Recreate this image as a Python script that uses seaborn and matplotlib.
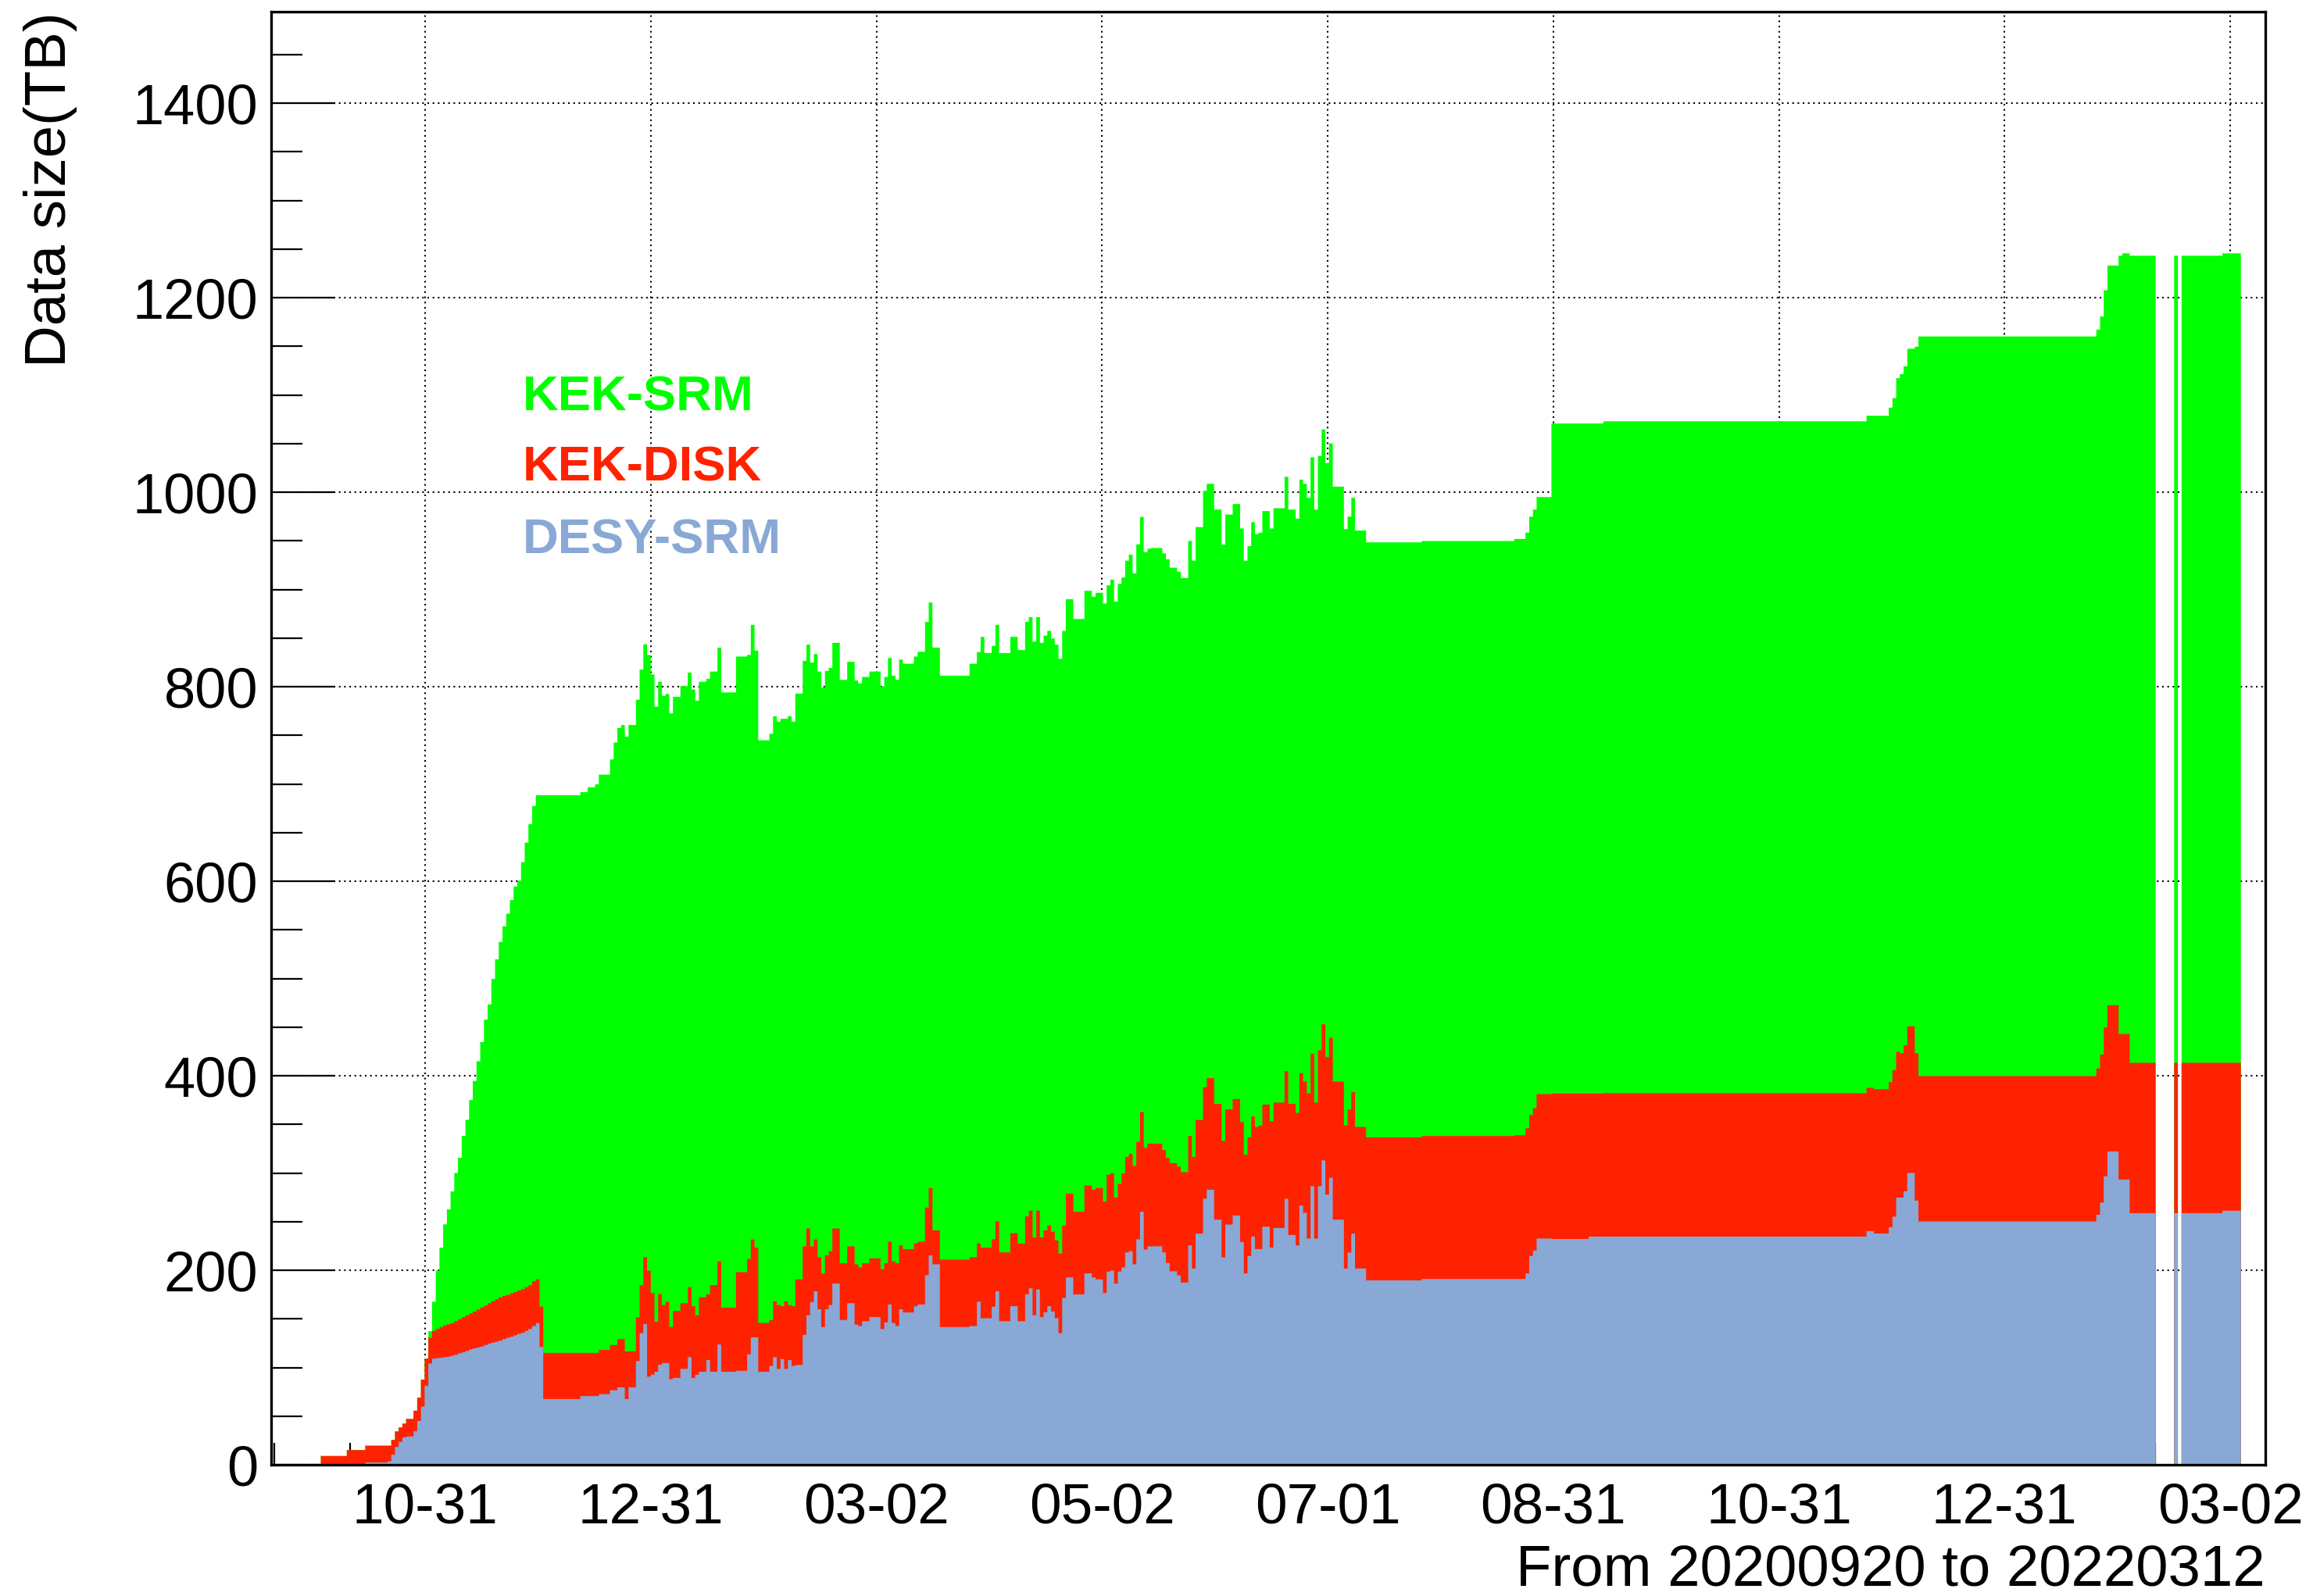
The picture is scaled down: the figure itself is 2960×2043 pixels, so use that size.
import numpy as np
import pandas as pd
import matplotlib
matplotlib.use("Agg")
import matplotlib.pyplot as plt
from matplotlib.ticker import FixedLocator, MultipleLocator
import seaborn as sns

# ---------------- data ----------------
# Runs of days with constant stack levels; day index counted from 2020-09-20.
run_start_day = [
    13, 20, 25, 31, 32, 33, 34, 35, 36, 38,
    39, 40, 41, 42, 43, 44, 45, 46, 47, 48,
    49, 50, 51, 52, 53, 54, 55, 56, 57, 58,
    59, 60, 61, 62, 63, 64, 65, 66, 67, 68,
    69, 70, 71, 72, 73, 83, 85, 87, 88, 91,
    92, 93, 94, 95, 96, 98, 99, 100, 101, 102,
    103, 104, 105, 106, 107, 108, 110, 112, 113, 114,
    115, 117, 118, 120, 121, 125, 128, 129, 130, 131,
    134, 135, 136, 137, 138, 139, 140, 141, 143, 144,
    145, 146, 147, 148, 149, 150, 151, 153, 155, 157,
    158, 159, 161, 164, 165, 166, 167, 168, 169, 170,
    173, 174, 176, 177, 178, 180, 188, 190, 191, 192,
    194, 195, 196, 199, 201, 203, 204, 205, 206, 207,
    208, 209, 210, 211, 212, 213, 214, 216, 219, 221,
    222, 224, 225, 226, 227, 228, 229, 230, 231, 232,
    233, 234, 235, 236, 237, 240, 241, 242, 244, 245,
    247, 248, 249, 251, 252, 254, 256, 257, 259, 261,
    262, 263, 264, 265, 266, 267, 269, 270, 273, 274,
    276, 277, 278, 279, 280, 281, 282, 283, 284, 285,
    286, 289, 290, 291, 292, 295, 310, 335, 338, 339,
    340, 341, 345, 355, 359, 430, 432, 436, 437, 438,
    439, 440, 441, 443, 444, 492, 493, 494, 495, 498,
    499, 501, 508, 513, 514, 515, 526,
]
last_day_end = 531

# top of the whole stack (KEK-SRM upper edge), TB
total_level = [
    9.4, 15.5, 20, 20, 26, 34.7, 38.7, 42.7, 47.5, 56,
    69.4, 88, 109.5, 137.7, 168, 200, 223.6, 247.6, 263, 281.4,
    300.4, 316, 338.5, 355, 375.4, 395, 415.3, 435, 458, 473.7,
    500, 520, 538, 554, 567, 581, 595, 601, 620, 640,
    659, 677.7, 688.8, 688.8, 688.8, 692, 697, 700, 710, 725.6,
    743, 758, 761, 749, 761, 787, 818, 844, 833, 813,
    780, 805.5, 791, 793, 773, 790, 801, 815, 797.6, 786,
    805.5, 808.6, 816, 840.6, 794.5, 831.4, 833, 864, 837.5, 745.3,
    752, 770, 764.4, 767.4, 767.4, 770, 764.4, 793.3, 827, 843.6,
    825.2, 834, 816, 799.4, 816.6, 819.7, 845.5, 807.4, 826, 806.8,
    803.7, 810.4, 816, 800.6, 810.4, 830, 811.7, 807.4, 828.3, 824,
    831.4, 836.3, 867, 887, 840.6, 811.7, 824, 836, 851.6, 835,
    842.4, 864, 835, 851.6, 838.1, 867, 872, 846.7, 872, 845.5,
    852.9, 857.8, 850, 843.6, 829, 857.8, 890.3, 870, 899, 893,
    897, 886, 904.6, 910.5, 888, 906, 912.7, 930, 936.2, 917,
    946.8, 975, 938.8, 942.3, 943, 937.5, 931.4, 922.8, 918.8, 912.2,
    950.2, 930, 964.5, 1001.8, 1009, 982.5, 946.6, 977.4, 988.2, 963.1,
    930, 944.9, 969.6, 957.4, 958.8, 981, 963.1, 983.9, 1016.2, 982.5,
    973.2, 1013.3, 1009, 994.6, 1036.3, 982.5, 1037.7, 1065, 1030.5, 1050.6,
    1006.1, 962.4, 975.3, 994.6, 961, 948.8, 950.2, 952.3, 958.8, 975.3,
    982.5, 995.4, 1071, 1071, 1073.3, 1079, 1079, 1087.3, 1097.1, 1117.6,
    1121.7, 1129.9, 1147.9, 1150, 1160.5, 1167.5, 1181, 1208, 1233.4, 1243.5,
    1246, 1243.5, 0, 1243.5, 0, 1243.5, 1246,
]

# top of KEK-DISK (DESY-SRM + KEK-DISK), TB
disk_level = [
    9.4, 15.5, 20, 20, 26, 34.7, 38.7, 42.7, 47.5, 56,
    69.4, 88, 109.5, 131, 138, 140, 142, 143.5, 145, 146,
    148, 150, 152, 154, 156, 158, 160, 162, 164, 166.5,
    168.5, 170.5, 172.5, 174, 175, 176.5, 178, 179.5, 181, 183,
    185, 189, 191, 163, 115.4, 115.4, 115.4, 115.4, 118.5, 123.5,
    123.5, 129.6, 129.6, 117, 117, 152, 185, 213.8, 200, 177,
    147.4, 176, 164.6, 168, 142, 158.5, 166.5, 183, 163.4, 154,
    172.6, 175.6, 185, 209.5, 162, 198.4, 212, 232, 223.6, 146.2,
    149, 168.3, 164.6, 163.4, 168.3, 164.6, 163.4, 191, 225, 243.3,
    225, 232, 213.8, 197, 215.7, 220, 243.3, 207.6, 225, 206.4,
    203.3, 207.6, 212.6, 201.5, 207.6, 229.7, 209.5, 207.6, 226, 222,
    227.9, 229.7, 264.8, 285, 241.4, 211.3, 213.8, 228, 223.6, 223.6,
    232.2, 250.6, 218.7, 238.4, 227.9, 255.6, 261.7, 234, 261.7, 234,
    241.4, 246.3, 240, 231, 217.5, 246.3, 279, 260.5, 287.5, 283.2,
    285, 271, 298.6, 300, 275.2, 289.3, 299.8, 317, 320, 307.8,
    332.4, 363, 326.2, 330.5, 330.5, 324, 316, 310.5, 306.9, 301.2,
    338.4, 316.9, 354.9, 388.6, 397.9, 371.4, 333.4, 365.7, 376.4, 352.8,
    319.1, 337, 358.5, 347.7, 349.2, 370.7, 353.5, 372.8, 405.1, 371.4,
    362.1, 403, 394.4, 382.2, 423, 372.8, 426.6, 453.2, 419.5, 439.5,
    394.4, 349.2, 365.7, 383.6, 347.8, 337, 338.4, 339.2, 346.3, 359.9,
    367, 381.5, 382, 382, 382.4, 388, 386.5, 393.9, 406.2, 425,
    423.4, 431.6, 451.2, 423.6, 400, 407.8, 422.2, 450, 472.9, 443.3,
    443.3, 413.7, 0, 413.7, 0, 413.7, 413.7,
]

# DESY-SRM, TB
desy_srm = [
    0, 0, 2.7, 4, 10.7, 18.7, 24, 28.6, 29.5, 34.8,
    45.5, 60.2, 81.6, 104.4, 109.5, 110, 110.5, 111, 111.5, 112.5,
    113.5, 115, 116, 117.5, 119, 120, 121, 122, 123.5, 125,
    126, 127, 128, 129.5, 131, 132, 133.5, 135, 136, 138,
    140, 143, 146, 121.6, 68, 71, 71, 71, 73, 77,
    77, 80, 80, 68, 80, 107, 135.7, 145, 91, 93,
    96, 103.2, 105, 105, 88.4, 89.7, 99, 111, 89.7, 93,
    96, 108, 96, 124, 96, 97, 114, 131.4, 131.4, 96,
    102, 111, 99, 109, 99, 108, 102, 103, 134, 154.2,
    167.7, 178.7, 160.3, 142, 160.3, 164.6, 186.7, 149.3, 166.5, 144.5,
    143, 148, 152.3, 140, 146.8, 165.2, 146.2, 143.1, 160.3, 157,
    163.4, 165.2, 195.3, 215.6, 206.5, 142, 143, 168, 151, 151,
    162.8, 178.7, 148, 163.4, 148, 175.6, 181.8, 154.2, 180.6, 152.3,
    157.2, 163.4, 158, 151.1, 135.7, 172, 193, 175.6, 197.2, 193,
    191, 177, 199, 200, 186.7, 199, 203.3, 218.7, 220, 206.5,
    232.2, 260.5, 221.8, 225, 225, 218.7, 208, 199.3, 195.1, 187.8,
    225.9, 202.2, 238, 273.9, 283.2, 252.4, 213.6, 247.4, 256.7, 229.4,
    197.1, 215, 235.1, 222.2, 222.2, 245.2, 223.7, 243.8, 273.9, 236.6,
    225.9, 266.8, 259.5, 233, 286.8, 233, 286.8, 313.3, 278.2, 295.4,
    252.4, 202.2, 218.6, 238, 202.2, 190, 191.4, 191.4, 197.1, 215,
    220.8, 233, 232.5, 235, 235, 240.6, 238.2, 244.7, 255.4, 275.1,
    275.1, 281.6, 300.4, 272, 250.5, 257.4, 270, 297, 322.5, 293.7,
    293.7, 259.1, 0, 259.1, 0, 259.1, 261.6,
]

series_names = ["KEK-SRM", "KEK-DISK", "DESY-SRM"]
series_colors = {"KEK-SRM": "#00ff00", "KEK-DISK": "#ff2200", "DESY-SRM": "#89a8d6"}

tick_labels = ["10-31", "12-31", "03-02", "05-02", "07-01",
               "08-31", "10-31", "12-31", "03-02"]
x_title = "From 20200920 to 20220312"
y_title = "Data size(TB)"

# ---------------- derived daily series ----------------
run_lengths = np.diff(np.append(run_start_day, last_day_end))
desy_daily = np.repeat(np.array(desy_srm, float), run_lengths)
disk_daily = np.repeat(np.array(disk_level, float) - np.array(desy_srm, float), run_lengths)
srm_daily = np.repeat(np.array(total_level, float) - np.array(disk_level, float), run_lengths)

days = np.arange(run_start_day[0], last_day_end)
centers = days + 0.8
bin_lo, bin_hi = run_start_day[0] + 0.3, last_day_end + 0.3

df = pd.DataFrame({
    "day": centers,
    "DESY-SRM": desy_daily,
    "KEK-DISK": disk_daily,
    "KEK-SRM": srm_daily,
})
# stacked upper edges (ROOT-style stack: each layer drawn from zero)
df["top_KEK-SRM"] = df["DESY-SRM"] + df["KEK-DISK"] + df["KEK-SRM"]
df["top_KEK-DISK"] = df["DESY-SRM"] + df["KEK-DISK"]
df["top_DESY-SRM"] = df["DESY-SRM"]

# ---------------- figure ----------------
sns.set_theme(style="white")
plt.rcParams["font.family"] = ["Liberation Sans", "DejaVu Sans"]
plt.rcParams["text.color"] = "black"
plt.rcParams["axes.labelcolor"] = "black"
plt.rcParams["xtick.color"] = "black"
plt.rcParams["ytick.color"] = "black"

W, H, DPI = 2960, 2043, 200
fig = plt.figure(figsize=(W / DPI, H / DPI), dpi=DPI)
ax = fig.add_axes([347 / W, 1 - 1875 / H, (2899 - 347) / W, (1875 - 15) / H])

for name in series_names:
    sns.histplot(data=df, x="day", weights="top_" + name,
                 binwidth=1, binrange=(bin_lo, bin_hi),
                 element="step", fill=True, color=series_colors[name],
                 alpha=1.0, linewidth=0, ax=ax)

ax.set_xlim(0, 538)
ax.set_ylim(0, 1494)
ax.set_axisbelow(True)

major_x = [41.53 + 60.875 * k for k in range(len(tick_labels))]
minor_x = [m + s * 60.875 / 3 for m in [41.53 - 60.875] + major_x for s in (1, 2)]
minor_x = [v for v in minor_x if 0 < v < 538]
ax.xaxis.set_major_locator(FixedLocator(major_x))
ax.xaxis.set_minor_locator(FixedLocator(minor_x))
ax.set_xticklabels(tick_labels)
ax.yaxis.set_major_locator(MultipleLocator(200))
ax.yaxis.set_minor_locator(MultipleLocator(50))

ax.grid(True, which="major", axis="both", color="black",
        linestyle=(0, (1, 2.2)), linewidth=0.75)
ax.tick_params(axis="y", which="major", direction="in", length=29.5, width=0.8,
               left=True, right=False, labelsize=26, pad=6,
               color="black", labelcolor="black")
ax.tick_params(axis="y", which="minor", direction="in", length=14.4, width=0.8,
               left=True, right=False, color="black")
ax.tick_params(axis="x", which="major", direction="in", length=20, width=0.8,
               bottom=True, top=False, labelsize=26.3, pad=8,
               color="black", labelcolor="black")
ax.tick_params(axis="x", which="minor", direction="in", length=10, width=0.8,
               bottom=True, top=False, color="black")

for sp in ax.spines.values():
    sp.set_visible(True)
    sp.set_color("black")
    sp.set_linewidth(1.2)

ax.set_xlabel(x_title, fontsize=26.8, loc="right", color="black")
ax.xaxis.set_label_coords(1.0, -0.0548)
ax.xaxis.label.set_verticalalignment("top")
ax.set_ylabel(y_title, fontsize=26.8, loc="top", color="black")
ax.yaxis.set_label_coords(-0.097, 1.0)

legend_y = [0.7255, 0.6769, 0.6269]
for name, yy in zip(series_names, legend_y):
    ax.text(0.1262, yy, name, transform=ax.transAxes, color=series_colors[name],
            fontsize=22.8, fontweight="bold", ha="left", va="baseline")

fig.savefig("out.png", dpi=DPI)
